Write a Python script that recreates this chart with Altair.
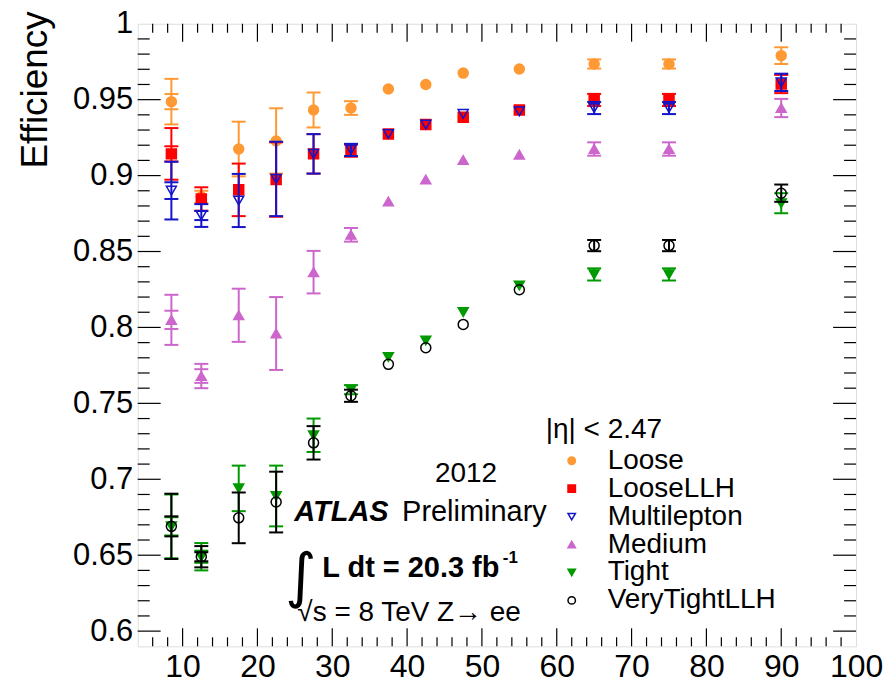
import altair as alt
import pandas as pd

# ---------------- data ----------------
x_centers = [8.5, 12.5, 17.5, 22.5, 27.5, 32.5, 37.5, 42.5, 47.5, 55, 65, 75, 90]

series_names = ["Loose", "LooseLLH", "Multilepton", "Medium", "Tight", "VeryTightLLH"]
series_colors = ["#FF9933", "#FF0000", "#1414C8", "#CC66CC", "#009900", "#000000"]
series_fills = ["#FF9933", "#FF0000", "transparent", "#CC66CC", "#009900", "transparent"]
series_shapes = ["circle", "square", "triangle-down", "triangle-up", "triangle-down", "circle"]

loose_eff = [0.9487, 0.886, 0.9175, 0.9228, 0.9432, 0.9445, 0.957, 0.960, 0.9675, 0.9702, 0.9735, 0.9735, 0.979]
loose_err = [0.015, 0.004, 0.018, 0.0215, 0.0115, 0.0045, 0, 0, 0, 0, 0.003, 0.003, 0.0055]
loose_stat = [0.005, 0, 0, 0, 0, 0, 0, 0, 0, 0, 0, 0, 0]

loosellh_eff = [0.9143, 0.8846, 0.8906, 0.8974, 0.9143, 0.9164, 0.9274, 0.9336, 0.9384, 0.9432, 0.9498, 0.9498, 0.9603]
loosellh_err = [0.017, 0.0077, 0.0173, 0.0245, 0.013, 0.004, 0, 0, 0, 0, 0.004, 0.004, 0.006]
loosellh_stat = [0.005, 0, 0, 0, 0, 0, 0, 0, 0, 0, 0, 0, 0]

multi_eff = [0.8901, 0.8737, 0.8836, 0.8978, 0.9143, 0.9169, 0.9274, 0.9336, 0.9406, 0.9423, 0.9445, 0.9445, 0.9614]
multi_err = [0.019, 0.0075, 0.0175, 0.0245, 0.013, 0.004, 0, 0, 0, 0, 0.004, 0.004, 0.0057]
multi_stat = [0.0055, 0.003, 0, 0, 0, 0, 0, 0, 0, 0, 0, 0, 0]

medium_eff = [0.805, 0.768, 0.808, 0.796, 0.8364, 0.861, 0.8829, 0.8974, 0.9103, 0.9138, 0.9175, 0.9175, 0.9445]
medium_err = [0.0165, 0.008, 0.0175, 0.024, 0.014, 0.0045, 0, 0, 0, 0, 0.0044, 0.0044, 0.006]
medium_stat = [0.006, 0.0045, 0, 0, 0, 0, 0, 0, 0, 0, 0, 0, 0]

tight_eff = [0.669, 0.649, 0.694, 0.689, 0.729, 0.759, 0.7805, 0.7914, 0.8101, 0.8276, 0.8349, 0.8349, 0.8818]
tight_err = [0.021, 0.009, 0.015, 0.020, 0.011, 0.003, 0, 0, 0, 0, 0.004, 0.004, 0.0066]
tight_stat = [0.006, 0.004, 0, 0, 0, 0, 0, 0, 0, 0, 0, 0, 0]

vtllh_eff = [0.669, 0.649, 0.6746, 0.685, 0.724, 0.755, 0.7757, 0.7866, 0.802, 0.8248, 0.8539, 0.8539, 0.8884]
vtllh_err = [0.0215, 0.007, 0.0167, 0.020, 0.011, 0.004, 0, 0, 0, 0, 0.0037, 0.0037, 0.0057]
vtllh_stat = [0.0066, 0.003, 0, 0, 0, 0, 0, 0, 0, 0, 0, 0, 0]

series_values = {
    "Loose": (loose_eff, loose_err, loose_stat),
    "LooseLLH": (loosellh_eff, loosellh_err, loosellh_stat),
    "Multilepton": (multi_eff, multi_err, multi_stat),
    "Medium": (medium_eff, medium_err, medium_stat),
    "Tight": (tight_eff, tight_err, tight_stat),
    "VeryTightLLH": (vtllh_eff, vtllh_err, vtllh_stat),
}

# axis ticks / labels
x_label_values = [10, 20, 30, 40, 50, 60, 70, 80, 90, 100]
y_label_values = [0.6, 0.65, 0.7, 0.75, 0.8, 0.85, 0.9, 0.95, 1.0]
x_major_ticks = [10, 20, 30, 40, 50, 60, 70, 80, 90]
x_minor_ticks = [v for v in range(6, 100, 2) if v % 10 != 0]
y_major_ticks = [0.6, 0.65, 0.7, 0.75, 0.8, 0.85, 0.9, 0.95]
y_minor_ticks = [round(0.59 + 0.01 * i, 2) for i in range(1, 41) if (i + 59) % 5 != 0]

X_DOMAIN = [4, 100]
Y_DOMAIN = [0.59, 1.0]
W, H = 720, 624
FONT = "Liberation Sans"

xs = alt.Scale(domain=X_DOMAIN, nice=False, zero=False)
ys = alt.Scale(domain=Y_DOMAIN, nice=False, zero=False)
cscale = alt.Scale(domain=series_names, range=series_colors)
fscale = alt.Scale(domain=series_names, range=series_fills)
sscale = alt.Scale(domain=series_names, range=series_shapes)

X_AXIS = alt.Axis(values=x_label_values, grid=False, ticks=False, tickSize=0, domain=False,
                  labelFont=FONT, labelColor="black", labelFontSize=32, labelPadding=5,
                  labelFlush=False, labelOverlap=False, title=None)
Y_AXIS = alt.Axis(values=y_label_values, grid=False, ticks=False, tickSize=0, domain=False,
                  format=".2~f", labelFont=FONT, labelColor="black", labelFontSize=31,
                  labelPadding=5, labelFlush=False, labelOverlap=False,
                  title="Efficiency", titleFont=FONT, titleFontSize=37,
                  titleFontWeight="normal", titleColor="black",
                  titleAngle=270, titleAlign="right", titleBaseline="top",
                  titleX=-120, titleY=-13)


def X(field):
    return alt.X(field, scale=xs, axis=X_AXIS, title=None)


def Y(field):
    return alt.Y(field, scale=ys, axis=Y_AXIS, title="Efficiency")


layers = []

# ---- inward frame ticks ----
def xticks(vals, length):
    d = pd.DataFrame({"v": vals})
    bottom = alt.Chart(d).mark_rule(color="black", strokeWidth=1.2).encode(
        x=X("v:Q"), y=alt.value(H), y2=alt.value(H - length))
    top = alt.Chart(d).mark_rule(color="black", strokeWidth=1.2).encode(
        x=X("v:Q"), y=alt.value(0), y2=alt.value(length))
    return [bottom, top]


def yticks(vals, length):
    d = pd.DataFrame({"v": vals})
    left = alt.Chart(d).mark_rule(color="black", strokeWidth=1.2).encode(
        y=Y("v:Q"), x=alt.value(0), x2=alt.value(length))
    right = alt.Chart(d).mark_rule(color="black", strokeWidth=1.2).encode(
        y=Y("v:Q"), x=alt.value(W), x2=alt.value(W - length))
    return [left, right]


layers += xticks(x_major_ticks, 18) + xticks(x_minor_ticks, 9)
layers += yticks(y_major_ticks, 23) + yticks(y_minor_ticks, 12)

# ---- data series ----
legend = alt.Legend(orient="none", legendX=421, legendY=424, title=None,
                    labelFontSize=28, labelFont=FONT, labelColor="black", labelLimit=400,
                    symbolSize=55, symbolStrokeWidth=1.5, labelOffset=22,
                    rowPadding=0, padding=0)

for i, name in enumerate(series_names):
    eff, err, stat = series_values[name]
    col = series_colors[i]
    df = pd.DataFrame({"x": x_centers, "y": eff, "err": err, "stat": stat})
    df["series"] = name
    df["lo"] = df["y"] - df["err"]
    df["hi"] = df["y"] + df["err"]
    bars = df[df["err"] > 0]
    st = df[df["stat"] > 0]
    caps = pd.concat([
        pd.DataFrame({"x": bars["x"], "c": bars["lo"]}),
        pd.DataFrame({"x": bars["x"], "c": bars["hi"]}),
        pd.DataFrame({"x": st["x"], "c": st["y"] - st["stat"]}),
        pd.DataFrame({"x": st["x"], "c": st["y"] + st["stat"]}),
    ])

    rule = alt.Chart(bars).mark_rule(strokeWidth=2, color=col).encode(
        x=X("x:Q"), y=Y("lo:Q"), y2="hi:Q",
    )
    cap = alt.Chart(caps).mark_tick(orient="horizontal", size=14, thickness=2,
                                    opacity=1, color=col).encode(
        x=X("x:Q"), y=Y("c:Q"),
    )
    pts = alt.Chart(df).mark_point(size=100, strokeWidth=1.5, opacity=1, fillOpacity=1).encode(
        x=X("x:Q"),
        y=Y("y:Q"),
        color=alt.Color("series:N", scale=cscale, legend=legend),
        fill=alt.Fill("series:N", scale=fscale, legend=legend),
        shape=alt.Shape("series:N", scale=sscale, legend=legend),
    )
    layers += [rule, cap, pts]


# ---- annotations ----
def label(text, x, y, size, weight="normal", style="normal", font=FONT, align="left", baseline="alphabetic"):
    d = pd.DataFrame({"t": [text]})
    return alt.Chart(d).mark_text(
        fontSize=size, fontWeight=weight, fontStyle=style, font=font,
        align=align, baseline=baseline, color="black"
    ).encode(x=alt.value(x), y=alt.value(y), text="t:N")


layers += [
    label("|\u03b7| < 2.47", 409, 415, 28),
    label("2012", 329, 459, 28, align="center"),
    label("ATLAS", 157, 498, 29, weight="bold", style="italic"),
    label("Preliminary", 265, 498, 29),
    label("\u222b", 148, 574, 60, font="DejaVu Sans"),
    label("L dt = 20.3 fb", 185, 555, 29, weight="bold"),
    label("-1", 366, 540, 17, weight="bold"),
    label("\u221as = 8 TeV Z\u2192 ee", 160, 599, 28),
]

chart = alt.layer(*layers).properties(
    width=W, height=H,
    autosize=alt.AutoSizeParams(type="none"),
    padding={"left": 130, "top": 15, "right": 28, "bottom": 37},
).configure_view(
    stroke="black", strokeWidth=1.5
).configure(background="white")

chart.save("out.html", embed_options={"renderer": "svg", "actions": False})
